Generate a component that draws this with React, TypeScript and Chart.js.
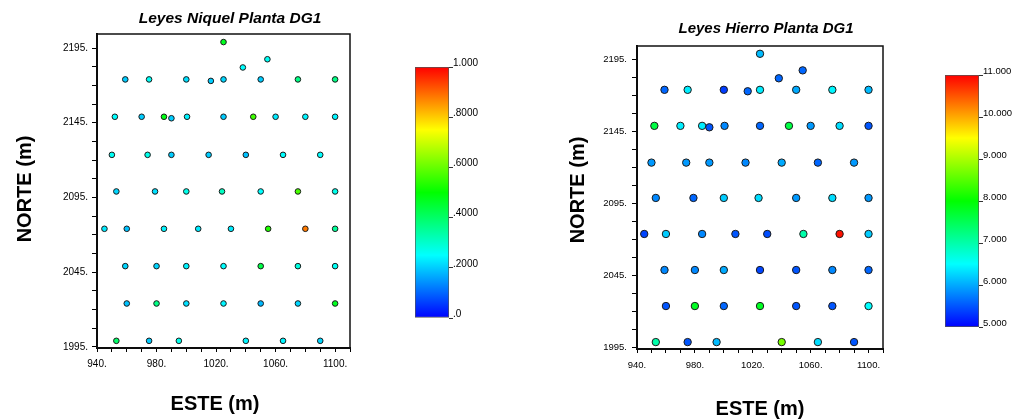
import React, { useEffect, useRef } from "react";
import { Chart, registerables } from "chart.js";
Chart.register(...registerables);

// Sample coordinates (shared by both maps)
const ESTE = [
  1025, 1054.5, 1038,
  959, 975, 1000, 1016.5, 1025, 1050, 1075, 1100,
  952, 970, 985, 990, 1000.5, 1025, 1045, 1060, 1080, 1100,
  950, 974, 990, 1015, 1040, 1065, 1090,
  953, 979, 1000, 1024, 1050, 1075, 1100,
  945, 960, 985, 1008, 1030, 1055, 1080, 1100,
  959, 980, 1000, 1025, 1050, 1075, 1100,
  960, 980, 1000, 1025, 1050, 1075, 1100,
  953, 975, 995, 1040, 1065, 1090,
];
const NORTE = [
  2199, 2187.5, 2182,
  2174, 2174, 2174, 2173, 2174, 2174, 2174, 2174,
  2149, 2149, 2149, 2148, 2149, 2149, 2149, 2149, 2149, 2149,
  2123.5, 2123.5, 2123.5, 2123.5, 2123.5, 2123.5, 2123.5,
  2099, 2099, 2099, 2099, 2099, 2099, 2099,
  2074, 2074, 2074, 2074, 2074, 2074, 2074, 2074,
  2049, 2049, 2049, 2049, 2049, 2049, 2049,
  2024, 2024, 2024, 2024, 2024, 2024, 2024,
  1999, 1999, 1999, 1999, 1999, 1999,
];
const NIQUEL = [
  0.47, 0.26, 0.25,
  0.2, 0.26, 0.22, 0.2, 0.21, 0.2, 0.37, 0.37,
  0.25, 0.2, 0.48, 0.2, 0.24, 0.2, 0.56, 0.23, 0.24, 0.24,
  0.26, 0.27, 0.2, 0.2, 0.19, 0.25, 0.25,
  0.21, 0.22, 0.27, 0.31, 0.25, 0.57, 0.27,
  0.23, 0.19, 0.24, 0.23, 0.23, 0.53, 0.88, 0.35,
  0.21, 0.21, 0.24, 0.25, 0.43, 0.28, 0.26,
  0.19, 0.37, 0.22, 0.24, 0.18, 0.21, 0.47,
  0.4, 0.2, 0.27, 0.24, 0.24, 0.21,
];
const HIERRO = [
  6.1, 5.6, 5.6,
  5.6, 6.4, 5.35, 5.6, 6.4, 6.0, 6.45, 6.1,
  7.6, 6.4, 6.4, 5.5, 5.8, 5.6, 7.6, 5.9, 6.3, 5.5,
  5.9, 5.9, 5.9, 5.8, 6.0, 5.6, 5.9,
  5.8, 5.6, 6.2, 6.3, 5.9, 6.3, 5.9,
  5.4, 6.2, 5.8, 5.5, 5.45, 7.0, 10.9, 6.2,
  5.8, 5.8, 6.0, 5.4, 5.5, 5.8, 5.6,
  5.5, 7.8, 5.6, 7.8, 5.5, 5.5, 6.5,
  7.0, 5.5, 6.1, 8.7, 6.3, 5.5,
];

const X_TICK_VALUES = [940, 950, 960, 970, 980, 990, 1000, 1010, 1020, 1030, 1040, 1050, 1060, 1070, 1080, 1090, 1100, 1110];
const X_LABELS: Record<number, string> = { 940: "940.", 980: "980.", 1020: "1020.", 1060: "1060.", 1100: "1100." };
const Y_TICK_VALUES = [1995, 2007.5, 2020, 2032.5, 2045, 2057.5, 2070, 2082.5, 2095, 2107.5, 2120, 2132.5, 2145, 2157.5, 2170, 2182.5, 2195];
const Y_LABELS: Record<number, string> = { 1995: "1995.", 2045: "2045.", 2095: "2095.", 2145: "2145.", 2195: "2195." };

const NI_TICKS = [0, 0.2, 0.4, 0.6, 0.8, 1.0];
const NI_TICK_LABELS = [".0", ".2000", ".4000", ".6000", ".8000", "1.000"];
const FE_TICKS = [5, 6, 7, 8, 9, 10, 11];
const FE_TICK_LABELS = ["5.000", "6.000", "7.000", "8.000", "9.000", "10.000", "11.000"];

const FONT = "'Liberation Sans', Arial, Helvetica, sans-serif";

function hueColor(v: number, min: number, max: number) {
  const t = Math.max(0, Math.min(1, (v - min) / (max - min)));
  return `hsl(${240 * (1 - t)}, 100%, 50%)`;
}

type ScatterCfg = {
  title: string;
  titleSize: number;
  titlePos: [number, number];
  xTitlePos: [number, number];
  yTitlePos: [number, number];
  values: number[];
  vmin: number;
  vmax: number;
  radius: number;
  padTop: number;
  padRight: number;
  yWidth: number;
  xHeight: number;
  tickFont: number;
  xPad: number;
  yPad: number;
};

function makeScatter(canvas: HTMLCanvasElement, c: ScatterCfg) {
  const decor = {
    id: "decor",
    beforeDatasetsDraw(chart: any) {
      const { ctx, chartArea: a } = chart;
      ctx.save();
      ctx.strokeStyle = "#111";
      ctx.lineWidth = 1.5;
      ctx.strokeRect(a.left, a.top, a.right - a.left, a.bottom - a.top);
      ctx.restore();
    },
    afterDraw(chart: any) {
      const { ctx } = chart;
      ctx.save();
      ctx.fillStyle = "#000";
      ctx.textAlign = "center";
      ctx.textBaseline = "middle";
      ctx.font = `italic bold ${c.titleSize}px ${FONT}`;
      ctx.fillText(c.title, c.titlePos[0], c.titlePos[1]);
      ctx.font = `bold 20px ${FONT}`;
      ctx.fillText("ESTE (m)", c.xTitlePos[0], c.xTitlePos[1]);
      ctx.translate(c.yTitlePos[0], c.yTitlePos[1]);
      ctx.rotate(-Math.PI / 2);
      ctx.fillText("NORTE (m)", 0, 0);
      ctx.restore();
    },
  };
  return new Chart(canvas, {
    type: "scatter",
    data: {
      datasets: [
        {
          data: ESTE.map((x, i) => ({ x, y: NORTE[i] })),
          pointBackgroundColor: c.values.map((v) => hueColor(v, c.vmin, c.vmax)),
          pointBorderColor: "#1a1a1a",
          pointBorderWidth: 1,
          pointRadius: c.radius,
          showLine: false,
        },
      ],
    },
    options: {
      animation: false,
      responsive: false,
      devicePixelRatio: 1,
      layout: { padding: { top: c.padTop, right: c.padRight, left: 0, bottom: 0 } },
      plugins: { legend: { display: false }, tooltip: { enabled: false } },
      scales: {
        x: {
          type: "linear",
          min: 940,
          max: 1110,
          afterBuildTicks: (s: any) => {
            s.ticks = X_TICK_VALUES.map((v) => ({ value: v }));
          },
          afterFit: (s: any) => {
            s.height = c.xHeight;
          },
          ticks: {
            autoSkip: false,
            maxRotation: 0,
            padding: c.xPad,
            color: "#000",
            font: { family: FONT, size: c.tickFont },
            callback: (v: any) => X_LABELS[v] ?? "",
          },
          grid: { drawOnChartArea: false, drawTicks: true, tickLength: 4, tickColor: "#000" },
          border: { display: true, color: "#000", width: 2 },
        },
        y: {
          type: "linear",
          min: 1994.2,
          max: 2204.4,
          afterBuildTicks: (s: any) => {
            s.ticks = Y_TICK_VALUES.map((v) => ({ value: v }));
          },
          afterFit: (s: any) => {
            s.width = c.yWidth;
          },
          ticks: {
            autoSkip: false,
            padding: c.yPad,
            color: "#000",
            font: { family: FONT, size: c.tickFont },
            callback: (v: any) => Y_LABELS[v] ?? "",
          },
          grid: { drawOnChartArea: false, drawTicks: true, tickLength: 5, tickColor: "#000" },
          border: { display: true, color: "#000", width: 2 },
        },
      },
    } as any,
    plugins: [decor],
  });
}

type BarCfg = {
  min: number;
  max: number;
  ticks: number[];
  labels: string[];
  padTop: number;
  padBottom: number;
  axisWidth: number;
  fontSize: number;
};

function makeColorbar(canvas: HTMLCanvasElement, c: BarCfg) {
  return new Chart(canvas, {
    type: "bar",
    data: {
      labels: [""],
      datasets: [
        {
          data: [[c.min, c.max]] as any,
          backgroundColor: (ctx: any) => {
            const ch = ctx.chart;
            const a = ch.chartArea;
            if (!a) return "#00f";
            const g = ch.ctx.createLinearGradient(0, a.bottom, 0, a.top);
            for (let i = 0; i <= 12; i++) g.addColorStop(i / 12, hueColor(i, 0, 12));
            return g;
          },
          borderColor: "#555",
          borderWidth: 1,
          borderSkipped: false,
          barPercentage: 1,
          categoryPercentage: 1,
        },
      ],
    },
    options: {
      animation: false,
      responsive: false,
      devicePixelRatio: 1,
      layout: { padding: { left: 15, top: c.padTop, bottom: c.padBottom, right: 0 } },
      plugins: { legend: { display: false }, tooltip: { enabled: false } },
      scales: {
        x: { display: false },
        y: {
          position: "right",
          min: c.min,
          max: c.max,
          afterBuildTicks: (s: any) => {
            s.ticks = c.ticks.map((v) => ({ value: v }));
          },
          afterFit: (s: any) => {
            s.width = c.axisWidth;
          },
          ticks: {
            autoSkip: false,
            padding: 0,
            labelOffset: -4,
            color: "#000",
            font: { family: FONT, size: c.fontSize },
            callback: (v: any) => {
              const i = c.ticks.findIndex((t) => Math.abs(t - v) < 1e-9);
              return i >= 0 ? c.labels[i] : "";
            },
          },
          grid: { drawOnChartArea: false, drawTicks: true, tickLength: 4, tickColor: "#333" },
          border: { display: false },
        },
      },
    } as any,
  });
}

export default function App() {
  const c1 = useRef<HTMLCanvasElement>(null);
  const cb1 = useRef<HTMLCanvasElement>(null);
  const c2 = useRef<HTMLCanvasElement>(null);
  const cb2 = useRef<HTMLCanvasElement>(null);

  useEffect(() => {
    const charts: Chart[] = [];
    charts.push(
      makeScatter(c1.current!, {
        title: "Leyes Niquel Planta DG1",
        titleSize: 15.5,
        titlePos: [230, 19],
        xTitlePos: [215, 404],
        yTitlePos: [25, 189],
        values: NIQUEL,
        vmin: 0,
        vmax: 1,
        radius: 2.8,
        padTop: 34,
        padRight: 50,
        yWidth: 97,
        xHeight: 71,
        tickFont: 10,
        xPad: 6,
        yPad: 4,
      })
    );
    charts.push(
      makeColorbar(cb1.current!, {
        min: 0,
        max: 1,
        ticks: NI_TICKS,
        labels: NI_TICK_LABELS,
        padTop: 67,
        padBottom: 101,
        axisWidth: 51,
        fontSize: 10,
      })
    );
    charts.push(
      makeScatter(c2.current!, {
        title: "Leyes Hierro Planta DG1",
        titleSize: 15,
        titlePos: [226, 29],
        xTitlePos: [220, 409],
        yTitlePos: [38, 190],
        values: HIERRO,
        vmin: 5,
        vmax: 11,
        radius: 3.7,
        padTop: 46,
        padRight: 57,
        yWidth: 97,
        xHeight: 70,
        tickFont: 9.5,
        xPad: 7,
        yPad: 5,
      })
    );
    charts.push(
      makeColorbar(cb2.current!, {
        min: 5,
        max: 11,
        ticks: FE_TICKS,
        labels: FE_TICK_LABELS,
        padTop: 75,
        padBottom: 92,
        axisWidth: 39,
        fontSize: 9.5,
      })
    );
    return () => charts.forEach((ch) => ch.destroy());
  }, []);

  const abs = (left: number): React.CSSProperties => ({ position: "absolute", left, top: 0 });
  return (
    <div style={{ position: "absolute", left: 0, top: 0, width: 1018, height: 419, background: "#fff", overflow: "hidden" }}>
      <canvas ref={c1} width={400} height={419} style={abs(0)} />
      <canvas ref={cb1} width={100} height={419} style={abs(400)} />
      <canvas ref={c2} width={400} height={419} style={abs(540)} />
      <canvas ref={cb2} width={88} height={419} style={abs(930)} />
    </div>
  );
}
